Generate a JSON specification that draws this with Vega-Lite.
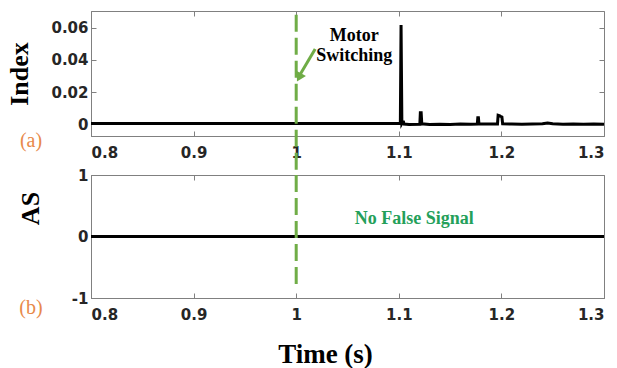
{
  "$schema": "https://vega.github.io/schema/vega-lite/v6.json",
  "autosize": {"type": "pad"},
  "padding": {"left": 5, "top": 10, "right": 5, "bottom": 5},
  "background": "white",
  "spacing": -10,
  "config": {
    "view": {"stroke": "#808080", "strokeWidth": 1},
    "axis": {
      "grid": false,
      "domainColor": "#808080",
      "tickColor": "#808080",
      "tickSize": -5,
      "labelFont": "DejaVu Sans",
      "labelFontWeight": "bold",
      "labelFontSize": 15,
      "labelColor": "#262626",
      "titleFont": "Liberation Serif",
      "titleFontWeight": "bold",
      "titleFontSize": 26,
      "titleColor": "black"
    }
  },
  "datasets": {
    "index": [
      {"t": 0.8, "v": 0.0005},
      {"t": 1.1015, "v": 0.0004},
      {"t": 1.1022, "v": 0.0617},
      {"t": 1.1030, "v": 0.0005},
      {"t": 1.1038, "v": 0.0014},
      {"t": 1.1046, "v": 0.0014},
      {"t": 1.1052, "v": 0.0001},
      {"t": 1.110, "v": -0.0001},
      {"t": 1.1205, "v": 0.0000},
      {"t": 1.1210, "v": 0.0072},
      {"t": 1.1218, "v": 0.0072},
      {"t": 1.1224, "v": 0.0003},
      {"t": 1.130, "v": -0.0001},
      {"t": 1.140, "v": 0.0000},
      {"t": 1.150, "v": -0.0001},
      {"t": 1.160, "v": 0.0001},
      {"t": 1.170, "v": 0.0000},
      {"t": 1.1765, "v": 0.0001},
      {"t": 1.1770, "v": 0.0041},
      {"t": 1.1776, "v": 0.0041},
      {"t": 1.1781, "v": 0.0003},
      {"t": 1.185, "v": 0.0001},
      {"t": 1.190, "v": 0.0002},
      {"t": 1.1962, "v": 0.0002},
      {"t": 1.1968, "v": 0.0056},
      {"t": 1.1985, "v": 0.0052},
      {"t": 1.1995, "v": 0.0048},
      {"t": 1.2005, "v": 0.0045},
      {"t": 1.2012, "v": 0.0003},
      {"t": 1.210, "v": 0.0001},
      {"t": 1.220, "v": 0.0000},
      {"t": 1.230, "v": 0.0001},
      {"t": 1.240, "v": 0.0003},
      {"t": 1.245, "v": 0.0008},
      {"t": 1.250, "v": 0.0003},
      {"t": 1.260, "v": 0.0000},
      {"t": 1.270, "v": 0.0001},
      {"t": 1.280, "v": 0.0000},
      {"t": 1.290, "v": 0.0001},
      {"t": 1.300, "v": 0.0000}
    ],
    "as": [
      {"t": 0.8, "v": 0},
      {"t": 1.3, "v": 0}
    ],
    "ruleA": [{"t": 1.0, "y": 0.068, "y2": -0.03}],
    "ruleB": [{"t": 1.0, "y": 1.0, "y2": -0.87}],
    "arrow": [{"t": 1.0185, "y": 0.0468, "t2": 1.0025, "y2": 0.0295}],
    "arrowHead": [{"t": 1.0029, "y": 0.0291}],
    "noteA": [{"t": 1.0565, "y": 0.0548, "label": "Motor\nSwitching"}],
    "tagA": [{"t": 0.7415, "y": -0.0104, "label": "(a)"}],
    "noteB": [{"t": 1.115, "y": 0.28, "label": "No False Signal"}],
    "tagB": [{"t": 0.7415, "y": -1.163, "label": "(b)"}]
  },
  "vconcat": [
    {
      "width": 513,
      "height": 125,
      "layer": [
        {
          "data": {"name": "index"},
          "mark": {"type": "line", "color": "black", "strokeWidth": 3},
          "encoding": {
            "x": {"field": "t", "type": "quantitative",
              "scale": {"domain": [0.8, 1.3], "nice": false},
              "axis": {"orient": "bottom", "title": null, "values": [0.8, 0.9, 1, 1.1, 1.2, 1.3],
                "labelExpr": "format(datum.value, '~g')", "labelPadding": 14}},
            "y": {"field": "v", "type": "quantitative",
              "scale": {"domain": [-0.0073, 0.0704], "nice": false, "zero": false},
              "axis": {"orient": "left", "title": "Index", "values": [0, 0.02, 0.04, 0.06],
                "labelExpr": "datum.value == 0 ? '0' : format(datum.value, '.2f')",
                "labelPadding": 8, "titleX": -72, "titleY": 62.5, "titleBaseline": "middle"}}
          }
        },
        {
          "data": {"name": "ruleA"},
          "mark": {"type": "rule", "color": "#70ad47", "strokeWidth": 3, "strokeDash": [17, 6]},
          "encoding": {
            "x": {"field": "t", "type": "quantitative",
              "axis": {"orient": "top", "labels": false, "title": null, "domain": false, "values": [0.8, 0.9, 1, 1.1, 1.2, 1.3]}},
            "y": {"field": "y", "type": "quantitative",
              "axis": {"orient": "right", "labels": false, "title": null, "domain": false, "values": [0, 0.02, 0.04, 0.06]}},
            "y2": {"field": "y2"}
          }
        },
        {
          "data": {"name": "arrow"},
          "mark": {"type": "rule", "color": "#6fac46", "strokeWidth": 3},
          "encoding": {
            "x": {"field": "t", "type": "quantitative", "axis": null},
            "y": {"field": "y", "type": "quantitative", "axis": null},
            "x2": {"field": "t2"},
            "y2": {"field": "y2"}
          }
        },
        {
          "data": {"name": "arrowHead"},
          "mark": {"type": "point", "shape": "triangle-up", "filled": true, "color": "#6fac46", "size": 110, "angle": 209, "opacity": 1},
          "encoding": {
            "x": {"field": "t", "type": "quantitative", "axis": null},
            "y": {"field": "y", "type": "quantitative", "axis": null}
          }
        },
        {
          "data": {"name": "noteA"},
          "mark": {"type": "text", "font": "Liberation Serif", "fontWeight": "bold", "fontSize": 18, "color": "black", "lineBreak": "\n", "lineHeight": 20, "baseline": "middle", "align": "center"},
          "encoding": {
            "x": {"field": "t", "type": "quantitative", "axis": null},
            "y": {"field": "y", "type": "quantitative", "axis": null},
            "text": {"field": "label"}
          }
        },
        {
          "data": {"name": "tagA"},
          "mark": {"type": "text", "font": "Liberation Serif", "fontSize": 20, "color": "#e8894a", "baseline": "middle", "align": "center"},
          "encoding": {
            "x": {"field": "t", "type": "quantitative", "axis": null},
            "y": {"field": "y", "type": "quantitative", "axis": null},
            "text": {"field": "label"}
          }
        }
      ],
      "resolve": {"axis": {"x": "independent", "y": "independent"}}
    },
    {
      "width": 513,
      "height": 123,
      "layer": [
        {
          "data": {"name": "as"},
          "mark": {"type": "line", "color": "black", "strokeWidth": 3},
          "encoding": {
            "x": {"field": "t", "type": "quantitative",
              "scale": {"domain": [0.8, 1.3], "nice": false},
              "axis": {"orient": "bottom", "title": "Time (s)", "values": [0.8, 0.9, 1, 1.1, 1.2, 1.3],
                "labelExpr": "format(datum.value, '~g')", "labelPadding": 14,
                "titleX": 234, "titleY": 56, "titleBaseline": "middle", "titleFontSize": 27}},
            "y": {"field": "v", "type": "quantitative",
              "scale": {"domain": [-1, 1], "nice": false},
              "axis": {"orient": "left", "title": "AS", "values": [-1, 0, 1],
                "labelExpr": "'' + datum.value",
                "labelPadding": 8, "titleX": -61, "titleY": 33, "titleBaseline": "middle"}}
          }
        },
        {
          "data": {"name": "ruleB"},
          "mark": {"type": "rule", "color": "#70ad47", "strokeWidth": 3, "strokeDash": [17, 6]},
          "encoding": {
            "x": {"field": "t", "type": "quantitative",
              "axis": {"orient": "top", "labels": false, "title": null, "domain": false, "values": [0.8, 0.9, 1, 1.1, 1.2, 1.3]}},
            "y": {"field": "y", "type": "quantitative",
              "axis": {"orient": "right", "labels": false, "title": null, "domain": false, "values": [-1, 0, 1]}},
            "y2": {"field": "y2"}
          }
        },
        {
          "data": {"name": "noteB"},
          "mark": {"type": "text", "font": "Liberation Serif", "fontWeight": "bold", "fontSize": 18, "color": "#24a05a", "baseline": "middle", "align": "center"},
          "encoding": {
            "x": {"field": "t", "type": "quantitative", "axis": null},
            "y": {"field": "y", "type": "quantitative", "axis": null},
            "text": {"field": "label"}
          }
        },
        {
          "data": {"name": "tagB"},
          "mark": {"type": "text", "font": "Liberation Serif", "fontSize": 20, "color": "#e8894a", "baseline": "middle", "align": "center"},
          "encoding": {
            "x": {"field": "t", "type": "quantitative", "axis": null},
            "y": {"field": "y", "type": "quantitative", "axis": null},
            "text": {"field": "label"}
          }
        }
      ],
      "resolve": {"axis": {"x": "independent", "y": "independent"}}
    }
  ]
}
